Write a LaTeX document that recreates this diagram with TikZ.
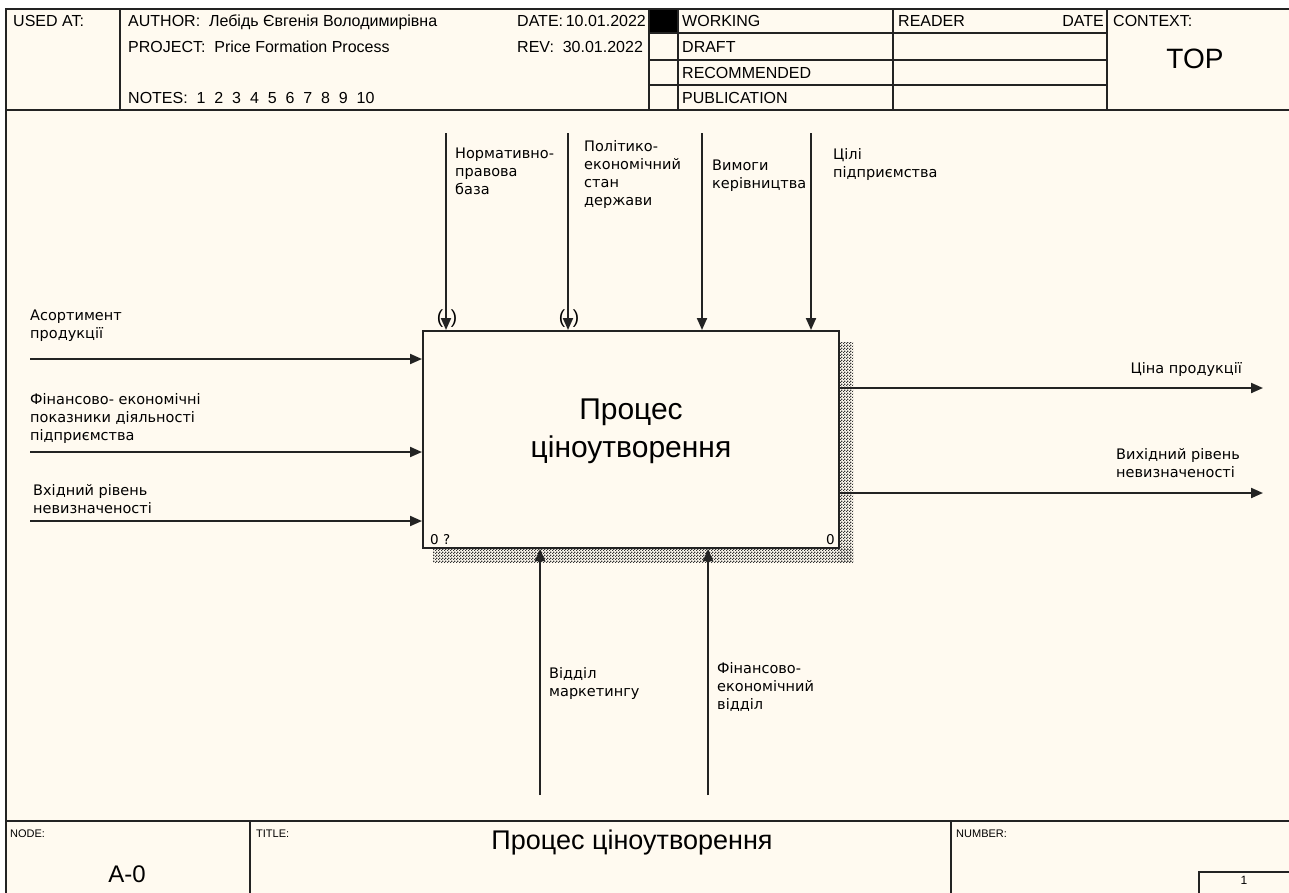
\documentclass[tikz,border=0pt]{standalone}
\usepackage{fontspec}
\setmainfont{Liberation Sans}
\newfontfamily\lblfont{DejaVu Sans}
\usetikzlibrary{arrows.meta,patterns.meta}
\definecolor{paper}{RGB}{255,250,240}
\definecolor{ink}{RGB}{35,35,35}
% small checker dither used for the box shadow
\pgfdeclarepattern{
  name=dither,
  type=uncolored,
  bottom left={\pgfpoint{0pt}{0pt}},
  top right={\pgfpoint{3pt}{3pt}},
  tile size={\pgfpoint{3pt}{3pt}},
  code={
    \pgfpathrectangle{\pgfpoint{0pt}{0pt}}{\pgfpoint{1.5pt}{1.5pt}}
    \pgfpathrectangle{\pgfpoint{1.5pt}{1.5pt}}{\pgfpoint{1.5pt}{1.5pt}}
    \pgfusepath{fill}
  }
}
\begin{document}
\begin{tikzpicture}[x=1pt,y=-1pt,
  rule/.style={draw=ink,line width=2pt},
  hdr/.style={font=\fontsize{16}{18}\selectfont,inner sep=0pt,anchor=base west},
  small/.style={font=\fontsize{11}{13}\selectfont,inner sep=0pt,anchor=west},
  lab/.style={font=\lblfont\fontsize{14.5}{18}\selectfont,inner sep=0pt,anchor=north west,align=left},
  flow/.style={draw=ink,line width=2pt,-{Triangle[length=12pt,width=10pt]}},
  tunnel/.style={font=\fontsize{19}{20}\selectfont,inner sep=0pt},
  corner/.style={font=\lblfont\fontsize{13.5}{15}\selectfont,inner sep=0pt},
  shade/.style={pattern=dither,pattern color=black!80}
]
\useasboundingbox (0,0) rectangle (1289,892);
\clip (0,0) rectangle (1289,892);
\fill[white] (0,0) rectangle (1289,892);
\fill[paper] (6,9) rectangle (1300,900);

% ---- header block ----
\node[hdr] (usedat) at (13,26.5) {USED AT:};
\node[hdr] (author) at (128,26.5) {AUTHOR:~~Лебідь Євгенія Володимирівна};
\node[hdr] (project) at (128,52) {PROJECT:~~Price Formation Process};
\node[hdr] (notes) at (128,103) {NOTES:~~1~~2~~3~~4~~5~~6~~7~~8~~9~~10};
\node[hdr] (date) at (517,26.5) {DATE:\,10.01.2022};
\node[hdr] (rev) at (517,52) {REV:~~30.01.2022};
\fill[paper] (649,9) rectangle (700,110);
\fill[black] (649,9) rectangle (678,33);
\node[hdr] (working) at (682,26.5) {WORKING};
\node[hdr] (draft) at (682,52) {DRAFT};
\node[hdr] (recommended) at (682,78) {RECOMMENDED};
\node[hdr] (publication) at (682,103) {PUBLICATION};
\node[hdr] (reader) at (898,26.5) {READER};
\node[hdr,anchor=base east] (rdate) at (1104,26.5) {DATE};
\node[hdr] (context) at (1113,26.5) {CONTEXT:};
\node[font=\fontsize{28}{30}\selectfont,inner sep=0pt] (top) at (1195,59) {TOP};

\draw[rule] (6,9) rectangle (1300,900);
\draw[rule] (6,110) -- (1300,110);
\draw[rule] (120,9) -- (120,110);
\draw[rule] (649,9) -- (649,110);
\draw[rule] (678,9) -- (678,110);
\draw[rule] (893,9) -- (893,110);
\draw[rule] (1107,9) -- (1107,110);
\draw[rule] (649,33) -- (1107,33);
\draw[rule] (649,60) -- (1107,60);
\draw[rule] (649,85) -- (1107,85);

% ---- footer block ----
\draw[rule] (6,821) -- (1300,821);
\draw[rule] (250,821) -- (250,900);
\draw[rule] (951,821) -- (951,900);
\draw[rule] (1199,872) rectangle (1300,900);
\node[small] (nodelbl) at (10,834) {NODE:};
\node[small] (titlelbl) at (256,834) {TITLE:};
\node[small] (numberlbl) at (956,834) {NUMBER:};
\node[font=\fontsize{24}{26}\selectfont,inner sep=0pt] (nodeid) at (127,874) {A-0};
\node[font=\fontsize{27}{29}\selectfont,inner sep=0pt] (title) at (632,843) {Процес ціноутворення};
\node[font=\fontsize{12}{14}\selectfont,inner sep=0pt] (pagenum) at (1244,880) {1};

% ---- activity box with shadow ----
\fill[shade] (839,342) rectangle (853,562);
\fill[shade] (433,548) rectangle (853,562);
\node[draw=ink,line width=2pt,fill=paper,minimum width=416pt,minimum height=217pt,inner sep=0pt] (box) at (631,439.5) {};
\node[font=\fontsize{30}{38}\selectfont,align=center,inner sep=0pt] (boxtext) at (631,431) {Процес\\ціноутворення};
\node[corner,anchor=base west] (boxnum) at (430,544) {0 ?};
\node[corner,anchor=base east] (boxcost) at (835,544) {0};

% ---- inputs ----
\coordinate (in1) at (30,359);
\coordinate (in2) at (30,452);
\coordinate (in3) at (30,521);
\draw[flow] (in1) -- (in1 -| box.west);
\draw[flow] (in2) -- (in2 -| box.west);
\draw[flow] (in3) -- (in3 -| box.west);
\node[lab] (t_in1) at (30,310) {Асортимент\\продукції};
\node[lab] (t_in2) at (30,393) {Фінансово- економічні\\показники діяльності\\підприємства};
\node[lab] (t_in3) at (33,484) {Вхідний рівень\\невизначеності};

% ---- controls ----
\coordinate (ct1) at (446,133);
\coordinate (ct2) at (568,133);
\coordinate (ct3) at (702,133);
\coordinate (ct4) at (811,133);
\draw[flow] (ct1) -- (ct1 |- box.north);
\draw[flow] (ct2) -- (ct2 |- box.north);
\draw[flow] (ct3) -- (ct3 |- box.north);
\draw[flow] (ct4) -- (ct4 |- box.north);
\node[tunnel] (tn1) at (447,319) {(\hspace{7.7pt})};
\node[tunnel] (tn2) at (569,319) {(\hspace{7.7pt})};
\node[lab] (t_ct1) at (455,148) {Нормативно-\\правова\\база};
\node[lab] (t_ct2) at (584,140) {Політико-\\економічний\\стан\\держави};
\node[lab] (t_ct3) at (712,160) {Вимоги\\керівництва};
\node[lab] (t_ct4) at (833,148) {Цілі\\підприємства};

% ---- outputs ----
\coordinate (out1) at (1263,388);
\coordinate (out2) at (1263,493);
\draw[flow] (out1 -| box.east) -- (out1);
\draw[flow] (out2 -| box.east) -- (out2);
\node[lab,anchor=north east] (t_out1) at (1242,362) {Ціна продукції};
\node[lab] (t_out2) at (1116,448) {Вихідний рівень\\невизначеності};

% ---- mechanisms ----
\coordinate (mc1) at (540,795);
\coordinate (mc2) at (708,795);
\draw[flow] (mc1) -- (mc1 |- box.south);
\draw[flow] (mc2) -- (mc2 |- box.south);
\node[lab] (t_mc1) at (549,667) {Відділ\\маркетингу};
\node[lab] (t_mc2) at (717,662) {Фінансово-\\економічний\\відділ};
\end{tikzpicture}
\end{document}
